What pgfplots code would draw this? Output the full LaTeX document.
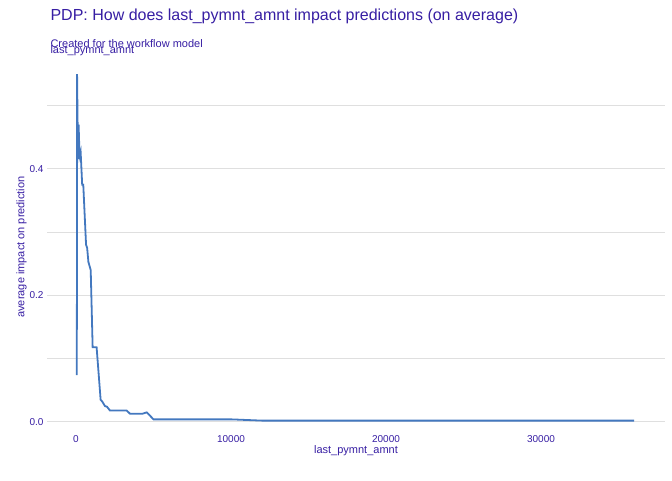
\documentclass[border=0pt]{standalone}
\usepackage{pgfplots}
\pgfplotsset{compat=1.18}
\usepackage{fontspec}
\setmainfont{Liberation Sans}
\definecolor{tc}{HTML}{371EA3}
\definecolor{lc}{HTML}{4378BF}
\begin{document}
\begin{tikzpicture}[x=1pt,y=1pt]
\useasboundingbox (0,0) rectangle (672,480);
\begin{axis}[at={(47pt,48pt)},anchor=south west,scale only axis,width=618pt,height=370pt,
 xmin=-1870,xmax=38000,ymin=-0.016,ymax=0.569,
 axis line style={draw=none}, major tick length=0pt, minor tick length=0pt,
 ytick={0,0.2,0.4}, xtick={0,10000,20000,30000},
 minor ytick={0.1,0.3,0.5},
 scaled x ticks=false, xticklabel style={/pgf/number format/.cd,1000 sep={},fixed},
 yticklabel style={/pgf/number format/.cd,fixed,fixed zerofill,precision=1},
 /pgf/number format/assume math mode=true,
 ymajorgrids, yminorgrids, major grid style={gray!25,line width=0.8pt}, minor grid style={gray!25,line width=0.8pt},
 tick label style={font=\fontsize{10}{12}\selectfont,text=tc},
 xlabel={last\_pymnt\_amnt}, ylabel={average impact on prediction},
 label style={font=\fontsize{11}{13}\selectfont,text=tc},
 xlabel style={yshift=4pt}, ylabel style={yshift=-4pt},
 clip=false]
\addplot[lc,line width=1.8pt] coordinates {
(50,0.074)(60,0.2)(70,0.55)(130,0.416)(170,0.47)(230,0.42)(300,0.427)(400,0.375)(470,0.375)(650,0.28)(720,0.275)(800,0.253)(950,0.24)(1075,0.118)(1330,0.118)(1590,0.035)(1700,0.032)(1870,0.025)(2000,0.024)(2190,0.018)(3270,0.018)(3480,0.013)(4300,0.013)(4560,0.015)(4650,0.013)(5000,0.004)(10000,0.004)(11000,0.003)(12000,0.002)(36000,0.002)};
\end{axis}
\node[anchor=base west,text=tc,font=\fontsize{16}{18}\selectfont] at (47,459) {PDP: How does last\_pymnt\_amnt impact predictions (on average)};
\node[anchor=base west,text=tc,font=\fontsize{11}{13}\selectfont] at (47,432) {Created for the workflow model};
\node[anchor=base west,text=tc,font=\fontsize{11}{13}\selectfont] at (47,426) {last\_pymnt\_amnt};
\end{tikzpicture}
\end{document}
